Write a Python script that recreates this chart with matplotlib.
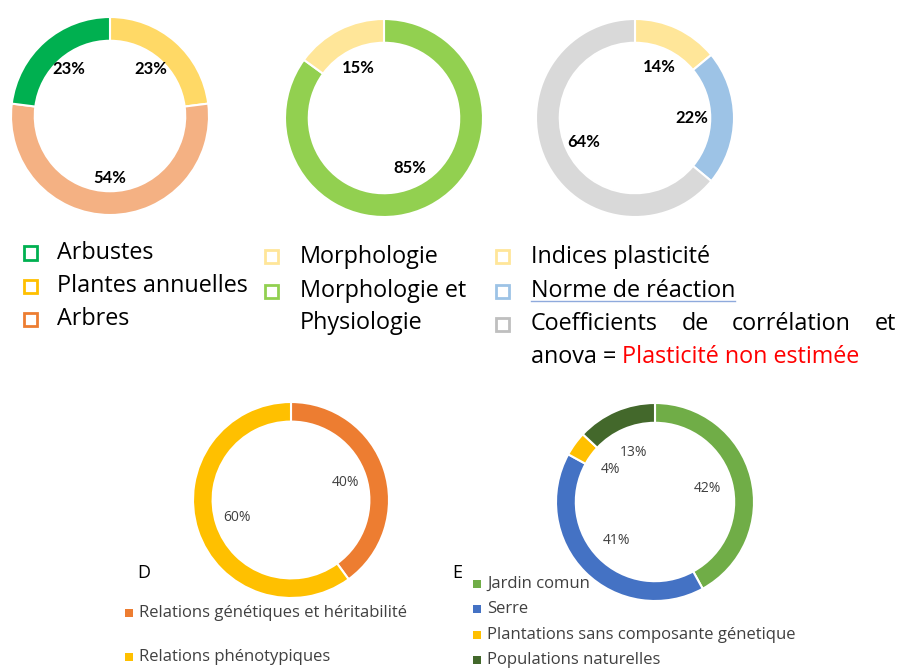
import matplotlib
matplotlib.use("Agg")
import matplotlib.pyplot as plt
from matplotlib.patches import Rectangle
from matplotlib.lines import Line2D

plt.rcParams['font.family'] = ['Open Sans', 'DejaVu Sans']

W, H = 903, 670
fig = plt.figure(figsize=(W / 100, H / 100), dpi=100)

# ---------------- data ----------------
# A: plant types (clockwise from top)
a_labels = ["Plantes annuelles", "Arbres", "Arbustes"]
a_values = [23, 54, 23]
a_colors = ["#FFD966", "#F4B183", "#00B050"]

# B: traits
b_labels = ["Morphologie et Physiologie", "Morphologie"]
b_values = [85, 15]
b_colors = ["#92D050", "#FFE699"]

# C: method
c_labels = ["Indices plasticité", "Norme de réaction", "Coefficients de corrélation et anova"]
c_values = [14, 22, 64]
c_colors = ["#FFE699", "#9DC3E6", "#D9D9D9"]

# D
d_labels = ["Relations génétiques et héritabilité", "Relations phénotypiques"]
d_values = [40, 60]
d_colors = ["#ED7D31", "#FFC000"]

# E
e_labels = ["Jardin comun", "Serre", "Plantations sans composante génetique", "Populations naturelles"]
e_values = [42, 41, 4, 13]
e_colors = ["#70AD47", "#4472C4", "#FFC000", "#43682B"]

# top legend entries (order as displayed)
leg1_labels = ["Arbustes", "Plantes annuelles", "Arbres"]
leg1_colors = ["#00B050", "#FFC000", "#ED7D31"]
leg2_labels = ["Morphologie", "Morphologie et"]
leg2_colors = ["#FFE699", "#92D050"]
leg3_labels = ["Indices plasticité", "Norme de réaction"]
leg3_colors = ["#FFE699", "#9DC3E6", "#BFBFBF"]


def px_axes(cx, cy, r):
    return fig.add_axes([(cx - r) / W, (H - cy - r) / H, 2 * r / W, 2 * r / H])


def donut(cx, cy, r, values, colors, width, pctdist, tkw):
    ax = px_axes(cx, cy, r)
    ax.pie(values, colors=colors, startangle=90, counterclock=False,
           wedgeprops=dict(width=width, edgecolor="white", linewidth=1.5),
           autopct=lambda p: f"{p:.0f}%", pctdistance=pctdist, textprops=tkw)
    ax.set_xlim(-1, 1)
    ax.set_ylim(-1, 1)
    ax.set_aspect("equal")
    ax.axis("off")
    return ax


top_kw = dict(fontsize=12, fontweight="bold", color="black", family=["Lato", "DejaVu Sans"])
bot_kw = dict(fontsize=10, color="#404040")
donut(110, 116, 99, a_values, a_colors, 0.24, 0.63, top_kw)
donut(384, 118, 99, b_values, b_colors, 0.24, 0.57, top_kw)
donut(635, 118, 99, c_values, c_colors, 0.24, 0.57, top_kw)
donut(291, 500, 98, d_values, d_colors, 0.20, 0.58, bot_kw)
donut(655, 502, 99, e_values, e_colors, 0.20, 0.55, bot_kw)


def ftext(x, y, s, **kw):
    kw.setdefault("va", "center")
    return fig.text(x / W, 1 - y / H, s, **kw)


def hollow_square(x, y, color, s=13):
    fig.patches.append(Rectangle(((x - s / 2) / W, 1 - (y + s / 2) / H), s / W, s / H,
                                 transform=fig.transFigure, facecolor="white",
                                 edgecolor=color, linewidth=2.0))


def filled_square(x, y, color, s=8):
    fig.patches.append(Rectangle(((x - s / 2) / W, 1 - (y + s / 2) / H), s / W, s / H,
                                 transform=fig.transFigure, facecolor=color,
                                 edgecolor="none"))


fig.canvas.draw()
renderer = fig.canvas.get_renderer()

LF = 16.8
# column 1
for i, (lab, col) in enumerate(zip(leg1_labels, leg1_colors)):
    y = 253 + 33 * i
    hollow_square(30, y, col)
    ftext(57, y, lab, fontsize=LF)

# column 2
for i, (lab, col) in enumerate(zip(leg2_labels, leg2_colors)):
    y = 257 + 34 * i
    hollow_square(272, y, col)
    ftext(300, y, lab, fontsize=LF)
ftext(300, 323, "Physiologie", fontsize=LF)

# column 3
ys3 = [257, 291, 324]
for i, col in enumerate(leg3_colors):
    hollow_square(503, ys3[i], col)
for i, lab in enumerate(leg3_labels):
    t = ftext(531, ys3[i], lab, fontsize=LF)
    if i == 1:
        wn = t.get_window_extent(renderer).width
        fig.add_artist(Line2D([531 / W, (531 + wn) / W], [1 - 301 / H, 1 - 301 / H],
                              color="#8FAADC", linewidth=1.0, transform=fig.transFigure))

# justified line
words = ["Coefficients", "de", "corrélation", "et"]
txts = [ftext(0, 324, w, fontsize=LF) for w in words]
widths = [t.get_window_extent(renderer).width for t in txts]
left, right = 531, 896
gap = (right - left - sum(widths)) / (len(words) - 1)
x = left
for t, w in zip(txts, widths):
    t.set_x(x / W)
    x += w + gap

t_an = ftext(531, 357, "anova = ", fontsize=LF)
wa = t_an.get_window_extent(renderer).width
ftext(531 + wa, 357, "Plasticité non estimée", fontsize=LF, color="#FF0000")

# bottom panels
ftext(137, 573, "D", fontsize=13)
ftext(452, 573, "E", fontsize=13)

BF = 12
for i, (lab, col) in enumerate(zip(d_labels, d_colors)):
    y = 613 + 44 * i
    filled_square(129, y, col)
    ftext(139, y, lab, fontsize=BF, color="#404040")

for i, (lab, col) in enumerate(zip(e_labels, e_colors)):
    y = 584 + 25.3 * i
    filled_square(477, y, col)
    ftext(487, y, lab, fontsize=BF, color="#404040")

fig.savefig("out.png", dpi=100)
